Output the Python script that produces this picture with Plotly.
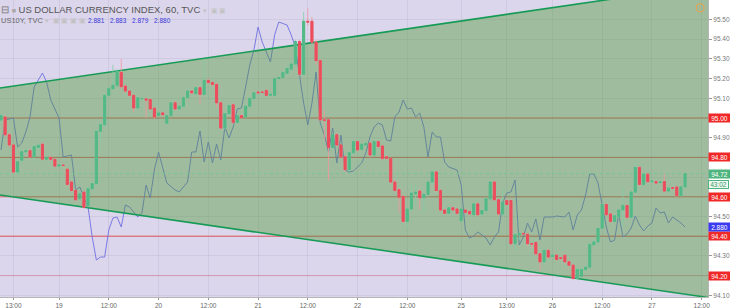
import plotly.graph_objects as go

# ---------------- data ----------------
tick_idx = [3, 14, 26, 38, 50, 62, 74, 86, 98, 111, 122, 133, 145, 157, 169]
tick_txt = ["13:00", "19", "12:00", "20", "12:00", "21", "12:00", "22", "12:00",
            "25", "13:00", "26", "12:00", "27", "12:00"]

opens = [94.990, 95.005, 94.915, 94.863, 94.726, 94.786, 94.829, 94.834, 94.803, 94.851,
         94.867, 94.791, 94.800, 94.790, 94.756, 94.761, 94.740, 94.675, 94.632, 94.590,
         94.624, 94.555, 94.641, 94.667, 94.932, 94.966, 95.115, 95.149, 95.166, 95.231,
         95.162, 95.137, 95.115, 95.051, 95.097, 95.097, 95.094, 95.050, 95.012, 95.026,
         94.974, 95.012, 95.077, 95.046, 95.060, 95.103, 95.137, 95.123, 95.154, 95.120,
         95.191, 95.180, 95.171, 95.077, 94.949, 95.022, 95.067, 94.978, 95.012, 95.005,
         95.060, 95.099, 95.132, 95.132, 95.140, 95.115, 95.115, 95.200, 95.205, 95.227,
         95.248, 95.274, 95.388, 95.222, 95.491, 95.491, 95.385, 95.291, 94.991, 94.991,
         94.851, 94.915, 94.863, 94.803, 94.738, 94.824, 94.880, 94.841, 94.863, 94.872,
         94.812, 94.880, 94.858, 94.803, 94.795, 94.675, 94.636, 94.602, 94.475, 94.538,
         94.615, 94.629, 94.595, 94.612, 94.675, 94.726, 94.632, 94.533, 94.516, 94.544,
         94.538, 94.479, 94.533, 94.526, 94.509, 94.564, 94.513, 94.530, 94.590, 94.675,
         94.585, 94.513, 94.581, 94.581, 94.362, 94.407, 94.414, 94.410, 94.362, 94.368,
         94.311, 94.270, 94.328, 94.297, 94.304, 94.291, 94.303, 94.270, 94.253, 94.185,
         94.197, 94.231, 94.243, 94.356, 94.371, 94.441, 94.561, 94.513, 94.475, 94.499,
         94.533, 94.556, 94.496, 94.624, 94.749, 94.663, 94.715, 94.677, 94.677, 94.672,
         94.677, 94.629, 94.646, 94.650, 94.607, 94.650]
closes = [95.012, 94.915, 94.863, 94.726, 94.778, 94.829, 94.834, 94.803, 94.855, 94.862,
          94.791, 94.800, 94.790, 94.756, 94.761, 94.759, 94.663, 94.632, 94.585, 94.615,
          94.547, 94.641, 94.667, 94.932, 94.966, 95.115, 95.149, 95.166, 95.239, 95.159,
          95.137, 95.115, 95.051, 95.103, 95.099, 95.091, 95.046, 95.005, 95.026, 95.017,
          95.012, 95.077, 95.046, 95.060, 95.103, 95.137, 95.128, 95.154, 95.120, 95.191,
          95.180, 95.171, 95.077, 94.949, 95.022, 95.063, 94.978, 95.012, 95.002, 95.060,
          95.099, 95.128, 95.128, 95.130, 95.115, 95.120, 95.200, 95.205, 95.231, 95.251,
          95.274, 95.388, 95.222, 95.491, 95.487, 95.385, 95.291, 94.991, 94.988, 94.851,
          94.915, 94.863, 94.803, 94.738, 94.824, 94.880, 94.838, 94.867, 94.872, 94.812,
          94.880, 94.855, 94.795, 94.795, 94.675, 94.632, 94.598, 94.475, 94.538, 94.619,
          94.624, 94.595, 94.612, 94.675, 94.726, 94.632, 94.533, 94.516, 94.544, 94.533,
          94.516, 94.538, 94.521, 94.513, 94.564, 94.509, 94.530, 94.590, 94.675, 94.585,
          94.513, 94.573, 94.561, 94.362, 94.407, 94.414, 94.412, 94.362, 94.360, 94.311,
          94.270, 94.328, 94.294, 94.304, 94.282, 94.287, 94.270, 94.253, 94.185, 94.231,
          94.231, 94.243, 94.359, 94.371, 94.439, 94.561, 94.509, 94.475, 94.504, 94.533,
          94.556, 94.496, 94.624, 94.749, 94.663, 94.715, 94.677, 94.680, 94.670, 94.675,
          94.629, 94.644, 94.644, 94.607, 94.650, 94.718]
highs = [95.025, 95.015, 94.925, 94.870, 94.790, 94.840, 94.845, 94.845, 94.865, 94.870,
         94.875, 94.810, 94.808, 94.795, 94.768, 94.765, 94.745, 94.680, 94.640, 94.625,
         94.630, 94.650, 94.675, 94.940, 94.975, 95.125, 95.160, 95.270, 95.250, 95.299,
         95.170, 95.145, 95.120, 95.110, 95.105, 95.100, 95.100, 95.055, 95.030, 95.030,
         95.020, 95.085, 95.085, 95.065, 95.110, 95.145, 95.142, 95.160, 95.160, 95.299,
         95.200, 95.185, 95.180, 95.085, 95.030, 95.070, 95.075, 95.020, 95.018, 95.065,
         95.105, 95.135, 95.137, 95.135, 95.145, 95.125, 95.205, 95.215, 95.240, 95.260,
         95.285, 95.395, 95.395, 95.538, 95.556, 95.512, 95.395, 95.300, 95.040, 94.995,
         94.925, 94.925, 94.870, 94.810, 94.830, 94.890, 94.885, 94.875, 94.880, 94.878,
         94.888, 94.886, 94.862, 94.810, 94.800, 94.690, 94.642, 94.610, 94.545, 94.660,
         94.660, 94.640, 94.620, 94.680, 94.735, 94.735, 94.640, 94.540, 94.550, 94.550,
         94.545, 94.545, 94.540, 94.530, 94.570, 94.570, 94.535, 94.598, 94.685, 94.682,
         94.590, 94.640, 94.590, 94.590, 94.415, 94.420, 94.420, 94.415, 94.365, 94.372,
         94.315, 94.335, 94.335, 94.310, 94.310, 94.295, 94.308, 94.275, 94.260, 94.240,
         94.240, 94.250, 94.365, 94.380, 94.445, 94.570, 94.568, 94.520, 94.510, 94.540,
         94.650, 94.562, 94.630, 94.778, 94.755, 94.722, 94.720, 94.685, 94.682, 94.680,
         94.715, 94.650, 94.650, 94.655, 94.655, 94.725]
lows = [94.980, 94.905, 94.850, 94.715, 94.715, 94.775, 94.820, 94.795, 94.780, 94.840,
        94.785, 94.785, 94.780, 94.750, 94.750, 94.752, 94.655, 94.625, 94.575, 94.580,
        94.540, 94.545, 94.635, 94.660, 94.880, 94.955, 95.105, 95.140, 95.155, 95.150,
        95.128, 95.105, 95.030, 95.040, 95.090, 95.000, 95.040, 94.995, 95.005, 95.010,
        94.965, 95.005, 95.040, 95.035, 95.050, 95.095, 95.120, 95.115, 95.070, 95.115,
        95.170, 95.160, 95.050, 94.940, 94.940, 95.015, 94.970, 94.970, 94.995, 95.000,
        95.055, 95.090, 95.122, 95.125, 95.110, 95.110, 95.110, 95.195, 95.200, 95.220,
        95.240, 95.265, 95.215, 95.215, 95.470, 95.375, 95.270, 94.985, 94.889, 94.684,
        94.840, 94.855, 94.795, 94.725, 94.730, 94.815, 94.830, 94.835, 94.858, 94.800,
        94.805, 94.848, 94.785, 94.788, 94.665, 94.625, 94.520, 94.468, 94.440, 94.530,
        94.560, 94.535, 94.520, 94.600, 94.665, 94.625, 94.525, 94.510, 94.510, 94.528,
        94.510, 94.470, 94.515, 94.505, 94.500, 94.500, 94.505, 94.525, 94.585, 94.578,
        94.505, 94.505, 94.555, 94.355, 94.330, 94.380, 94.405, 94.350, 94.340, 94.300,
        94.225, 94.262, 94.288, 94.292, 94.276, 94.282, 94.262, 94.235, 94.180, 94.180,
        94.190, 94.225, 94.238, 94.350, 94.365, 94.435, 94.500, 94.468, 94.470, 94.492,
        94.450, 94.490, 94.490, 94.618, 94.655, 94.655, 94.670, 94.670, 94.664, 94.666,
        94.622, 94.622, 94.638, 94.600, 94.600, 94.645]

# US10Y overlay (own scale)
t10_idx = [0, 1, 3, 4, 5, 6, 7, 8, 10, 11, 12, 14, 15, 17, 18, 19, 21, 22, 23, 24,
           25, 26, 27, 28, 29, 30, 31, 33, 34, 35, 36, 37, 38, 39, 40, 42, 43, 45, 46, 47,
           48, 49, 50, 51, 52, 53, 54, 55, 56, 57, 58, 59, 60, 61, 62, 63, 65, 66, 67, 69,
           70, 71, 72, 73, 74, 75, 76, 77, 78, 79, 80, 81, 82, 83, 84, 85, 87, 88, 89, 90,
           91, 92, 93, 94, 95, 96, 97, 98, 99, 100, 101, 102, 103, 104, 105, 106, 107, 108, 110, 111,
           112, 113, 114, 115, 117, 118, 119, 120, 121, 122, 123, 124, 125, 126, 127, 128, 129, 130, 131, 133,
           134, 136, 137, 138, 139, 140, 141, 142, 143, 144, 145, 146, 147, 148, 149, 150, 151, 152, 153, 154,
           155, 156, 157, 158, 159, 160, 161, 162, 163, 164, 165]
t10_val = [2.9185, 2.9335, 2.9345, 2.920, 2.922, 2.9275, 2.935, 2.950, 2.957, 2.9525,
           2.9435, 2.9345, 2.915, 2.916, 2.8985, 2.900, 2.890, 2.875, 2.8635, 2.865,
           2.865, 2.8785, 2.8845, 2.885, 2.880, 2.891, 2.890, 2.885, 2.887, 2.901,
           2.8945, 2.9085, 2.9175, 2.910, 2.902, 2.8985, 2.8975, 2.9025, 2.9175, 2.9175,
           2.928, 2.9125, 2.9225, 2.912, 2.9215, 2.9135, 2.930, 2.9245, 2.930, 2.939,
           2.9395, 2.950, 2.961, 2.9685, 2.980, 2.9725, 2.9625, 2.976, 2.9825, 2.981,
           2.976, 2.970, 2.956, 2.942, 2.931, 2.942, 2.9575, 2.932, 2.926, 2.9175,
           2.9295, 2.912, 2.926, 2.9085, 2.9075, 2.908, 2.912, 2.917, 2.925, 2.930,
           2.932, 2.931, 2.9235, 2.923, 2.935, 2.9375, 2.9435, 2.939, 2.9395, 2.935,
           2.937, 2.930, 2.915, 2.9275, 2.925, 2.925, 2.9125, 2.910, 2.9085, 2.901,
           2.8785, 2.8745, 2.8755, 2.8775, 2.8745, 2.871, 2.875, 2.8775, 2.892, 2.897,
           2.8975, 2.9035, 2.871, 2.875, 2.882, 2.8775, 2.884, 2.8735, 2.885, 2.885,
           2.8855, 2.885, 2.8875, 2.8785, 2.886, 2.8885, 2.896, 2.9065, 2.9065, 2.902,
           2.891, 2.880, 2.8725, 2.8735, 2.8865, 2.875, 2.8765, 2.8795, 2.8855, 2.881,
           2.878, 2.8805, 2.882, 2.8895, 2.887, 2.8875, 2.882, 2.885, 2.8835, 2.882, 2.880]
t10_header = ["2.881", "2.883", "2.879", "2.880"]

# drawings (bar index, price)
chan_x = [-0.24, 170.53]
chan_upper = [95.152, 95.675]
chan_lower = [94.609, 94.089]
level_prices = [95.00, 94.80, 94.60, 94.40, 94.20]
level_colors = ["rgba(232,70,70,0.85)", "rgba(232,70,70,0.85)", "rgba(232,70,70,0.85)",
                "rgba(240,60,60,0.9)", "rgba(235,100,130,0.55)"]

price_range = [94.0914, 95.599]
t10_range = [2.845, 2.9935]
price_ticks = [94.1, 94.3, 94.5, 94.9, 95.1, 95.2, 95.3, 95.4, 95.5, 95.6]
grid_ticks = [94.1, 94.2, 94.3, 94.4, 94.5, 94.6, 94.7, 94.8, 94.9, 95.0,
              95.1, 95.2, 95.3, 95.4, 95.5, 95.6]

# ---------------- figure ----------------
GREEN = "#53b987"
RED = "#eb4d5c"
FONT = "Arial, Liberation Sans, sans-serif"
GRID = "rgba(140,140,175,0.16)"
xs = list(range(len(opens)))

fig = go.Figure()

# US10Y line on the base axis (below the channel fill)
fig.add_trace(go.Scatter(x=t10_idx, y=t10_val, mode="lines",
                         line=dict(color="rgb(122,122,228)", width=1), yaxis="y"))

# channel fill + borders on the price axis y2
fig.add_trace(go.Scatter(x=[chan_x[0], chan_x[1], chan_x[1], chan_x[0]],
                         y=[chan_upper[0], chan_upper[1], chan_lower[1], chan_lower[0]],
                         fill="toself", fillcolor="rgba(75,152,52,0.42)",
                         line=dict(width=0), mode="lines", yaxis="y2"))
fig.add_trace(go.Scatter(x=chan_x, y=chan_upper, mode="lines",
                         line=dict(color="rgb(22,155,85)", width=1.6), yaxis="y2"))
fig.add_trace(go.Scatter(x=chan_x, y=chan_lower, mode="lines",
                         line=dict(color="rgb(22,155,85)", width=1.6), yaxis="y2"))

# last price dotted line
last = closes[-1]
fig.add_trace(go.Scatter(x=chan_x, y=[last, last], mode="lines",
                         line=dict(color="rgba(110,205,140,0.85)", width=1, dash="dot"),
                         yaxis="y2"))

# candles on y3 (above the fill): pale wicks then vivid bodies
fig.add_trace(go.Candlestick(x=xs, open=opens, high=highs, low=lows, close=closes,
                             increasing=dict(line=dict(color="rgba(130,205,165,0.8)", width=1),
                                             fillcolor="rgba(130,205,165,0.8)"),
                             decreasing=dict(line=dict(color="rgba(240,150,155,0.8)", width=1),
                                             fillcolor="rgba(240,150,155,0.8)"),
                             yaxis="y3", hoverinfo="skip"))
body_hi = [max(o, c) for o, c in zip(opens, closes)]
body_lo = [min(o, c) for o, c in zip(opens, closes)]
fig.add_trace(go.Candlestick(x=xs, open=opens, high=body_hi, low=body_lo, close=closes,
                             increasing=dict(line=dict(color=GREEN, width=1), fillcolor=GREEN),
                             decreasing=dict(line=dict(color=RED, width=1), fillcolor=RED),
                             yaxis="y3", hoverinfo="skip"))

# horizontal levels (below traces)
shapes = []
for p, col in zip(level_prices, level_colors):
    shapes.append(dict(type="line", xref="paper", x0=0, x1=1, yref="y2", y0=p, y1=p,
                       line=dict(color=col, width=1), layer="below"))
# small orange info icon
shapes.append(dict(type="circle", xref="paper", yref="paper",
                   x0=0.9835, x1=0.9945, y0=0.960, y1=0.987,
                   line=dict(color="#f0a040", width=1)))

annotations = []
for p in level_prices:
    annotations.append(dict(x=1, xref="paper", xanchor="left", y=p, yref="y2",
                            text=f"{p:.2f}", showarrow=False, bgcolor="#f02828",
                            font=dict(color="white", size=6.5, family=FONT),
                            width=21, height=8, borderpad=0))
annotations.append(dict(x=1, xref="paper", xanchor="left", y=last, yref="y2",
                        text=f"{last:.2f}", showarrow=False, bgcolor="#4fb57e",
                        font=dict(color="white", size=6.5, family=FONT),
                        width=21, height=8, borderpad=0))
annotations.append(dict(x=1, xref="paper", xanchor="left", y=last, yref="y2", yshift=-11,
                        text="43:02", showarrow=False, bgcolor="#eef7f1",
                        bordercolor="#4fb57e", borderwidth=1,
                        font=dict(color="#3a9a66", size=6.5, family=FONT),
                        width=19, height=7, borderpad=0))
annotations.append(dict(x=1, xref="paper", xanchor="left", y=float(t10_header[-1]), yref="y",
                        text=t10_header[-1], showarrow=False, bgcolor="#3b3bf0",
                        font=dict(color="white", size=6.5, family=FONT),
                        width=21, height=8, borderpad=0))

# header texts
def hdr(text, xpx, ypx, size, color):
    annotations.append(dict(x=0, xref="paper", xanchor="left", xshift=xpx,
                            y=1, yref="paper", yanchor="middle", yshift=-ypx,
                            text=text, showarrow=False, borderpad=0,
                            font=dict(color=color, size=size, family=FONT)))

ICON = "<span style='color:#c2c2c2;font-size:6.5px'>"
hdr("<span style='color:#777'>⊟</span> <span style='color:#a8a8a8;font-size:7px'>■</span> "
    "US DOLLAR CURRENCY INDEX, 60, TVC " + ICON + "▾  ▣ ▣</span>", 0, 9, 9.5, "#555")
hdr("US10Y, TVC " + ICON + "▾  ▣ ▣ ▣ ▣</span>", 0, 20, 7.5, "#666")
for k, v in enumerate(t10_header):
    hdr(v, 87 + 22 * k, 20, 6.5, "#3838d8")
hdr("!", 698, 8, 6, "#f0a040")

fig.update_layout(
    width=730, height=308,
    margin=dict(l=0, r=22, t=0, b=11),
    paper_bgcolor="white", plot_bgcolor="#dcd6ec",
    showlegend=False, hovermode=False,
    shapes=shapes, annotations=annotations,
    font=dict(family=FONT),
    xaxis=dict(range=[chan_x[0], chan_x[1]], tickmode="array", tickvals=tick_idx,
               ticktext=tick_txt, showgrid=True, gridcolor=GRID,
               ticks="outside", ticklen=2, tickcolor="#999",
               tickfont=dict(size=6.5, color="#666", family=FONT),
               showline=True, linecolor="#b5b5b5", zeroline=False,
               rangeslider=dict(visible=False), fixedrange=True),
    yaxis=dict(range=t10_range, visible=False, showgrid=False, zeroline=False,
               fixedrange=True),
    yaxis2=dict(range=price_range, overlaying="y", side="right", tickmode="array",
                tickvals=grid_ticks, showticklabels=False, showgrid=True,
                gridcolor=GRID, ticks="", showline=True, linecolor="#b5b5b5",
                zeroline=False, fixedrange=True),
    yaxis3=dict(range=price_range, overlaying="y", side="right", tickmode="array",
                tickvals=price_ticks, tickformat=".2f", showgrid=False,
                ticks="outside", ticklen=3, tickcolor="#999",
                tickfont=dict(size=6.5, color="#777", family=FONT),
                showline=False, zeroline=False, fixedrange=True),
)

fig.write_html("out.html")
